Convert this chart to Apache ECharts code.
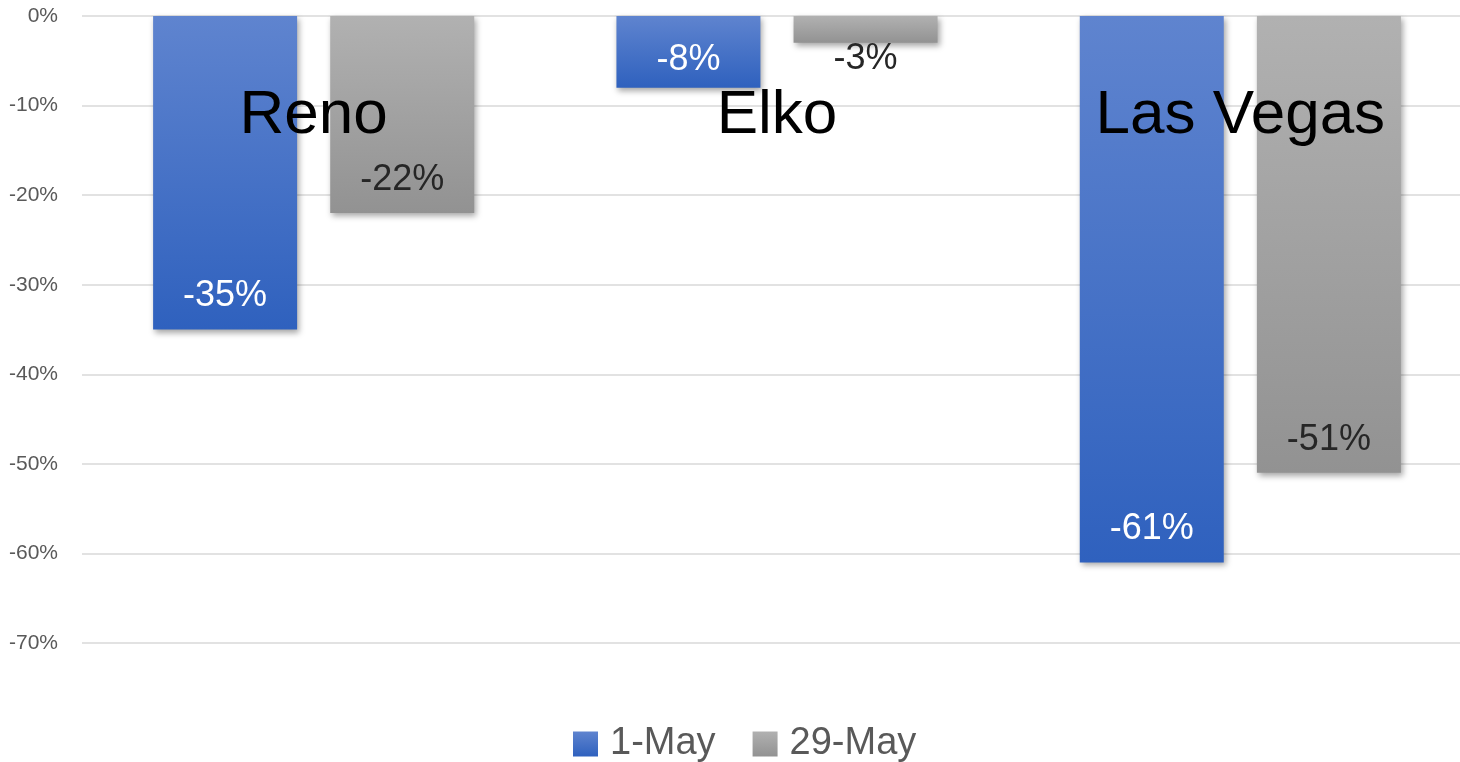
<!DOCTYPE html>
<html><head><meta charset="utf-8">
<script src="https://cdn.jsdelivr.net/npm/echarts@6/dist/echarts.min.js"></script>
<style>html,body{margin:0;padding:0;background:#fff}#c{width:1460px;height:762px}</style>
</head><body><div id="c"></div>
<script>
const categories = ['Reno', 'Elko', 'Las Vegas'];
const may1 = [-35, -8, -61];
const may29 = [-22, -3, -51];
const seriesNames = ['1-May', '29-May'];

const FONT = '"Liberation Sans", Arial, sans-serif';
const chart = echarts.init(document.getElementById('c'));
function grad(top, bottom) {
  return new echarts.graphic.LinearGradient(0, 0, 0, 1, [
    { offset: 0, color: top }, { offset: 1, color: bottom }]);
}
const shadow = { shadowBlur: 6, shadowOffsetX: 2, shadowOffsetY: 3, shadowColor: 'rgba(0,0,0,0.35)' };
const blueStyle = Object.assign({ color: grad('#5f84cf', '#2f61be') }, shadow);
const grayStyle = Object.assign({ color: grad('#b1b1b1', '#929292') }, shadow);

function labelled(vals) {
  return vals.map(v => {
    const item = { value: v };
    if (Math.abs(v) < 5) {
      item.label = { position: 'bottom', distance: -2 };
    } else if (Math.abs(v) < 10) {
      item.label = { distance: 10 };
    }
    return item;
  });
}

chart.setOption({
  animation: false,
  textStyle: { fontFamily: FONT },
  grid: { left: 82, width: 1390, top: 16, height: 627, containLabel: false, outerBoundsMode: 'none' },
  legend: {
    data: seriesNames,
    left: 568, top: 720,
    itemWidth: 25, itemHeight: 25, itemGap: 37,
    icon: 'rect',
    textStyle: { fontFamily: FONT, fontSize: 38, color: '#595959', lineHeight: 38, padding: [0, 0, 0, 7] }
  },
  xAxis: {
    type: 'category', data: categories, position: 'top', z: 10,
    axisLine: { show: false }, axisTick: { show: false },
    axisLabel: {
      inside: true, margin: 100, verticalAlign: 'middle',
      fontFamily: FONT, fontSize: 62, color: '#000', lineHeight: 72
    }
  },
  yAxis: {
    type: 'value', min: -70, max: 0, interval: 10,
    axisLine: { show: false }, axisTick: { show: false },
    splitLine: { lineStyle: { color: '#d9d9d9', width: 1.5 } },
    axisLabel: { formatter: v => v + '%', fontFamily: FONT, fontSize: 21, color: '#595959', margin: 24 }
  },
  series: [
    {
      name: seriesNames[0], type: 'bar', data: labelled(may1),
      barWidth: 144, barGap: '23%', itemStyle: blueStyle,
      label: { show: true, position: 'insideBottom', distance: 15, formatter: p => p.value + '%',
        fontFamily: FONT, fontSize: 36, color: '#ffffff' }
    },
    {
      name: seriesNames[1], type: 'bar', data: labelled(may29),
      barWidth: 144, barGap: '23%', itemStyle: grayStyle,
      label: { show: true, position: 'insideBottom', distance: 15, formatter: p => p.value + '%',
        fontFamily: FONT, fontSize: 36, color: '#262626' }
    }
  ]
});
</script></body></html>
